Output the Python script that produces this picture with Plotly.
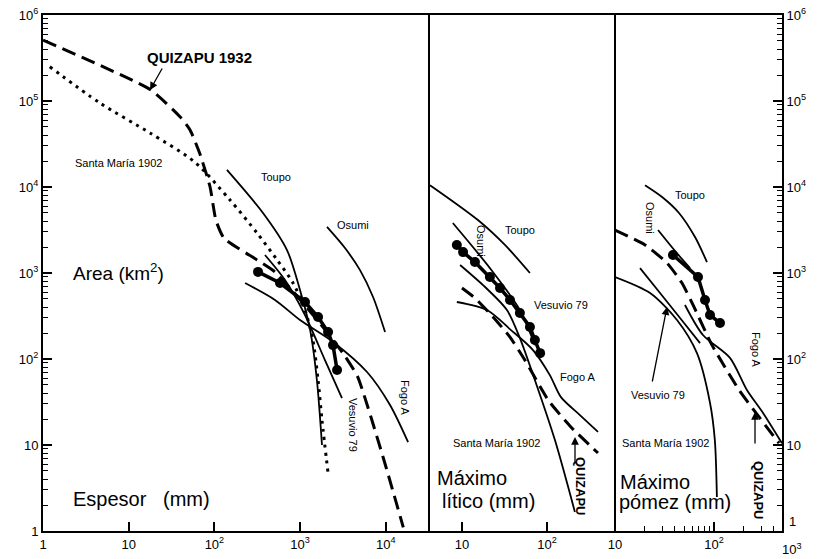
import plotly.graph_objects as go

# ---------------- Panel 1: Espesor (mm) vs Area (km2) ----------------
p1_quizapu_x = [1, 18, 40, 52, 68, 89, 104, 129, 314, 509, 1000, 1950, 3300, 4700, 9300, 16000]
p1_quizapu_y = [5.1e5, 1.35e5, 6.5e4, 4.6e4, 2.4e4, 1.0e4, 4130, 2550, 1420, 1030, 490, 220, 110, 62, 7.2, 1.1]
p1_santamaria_x = [1.2, 4.6, 17.7, 59, 152, 314, 538, 827, 1140, 1410, 1620, 1800, 2120]
p1_santamaria_y = [2.5e5, 9.5e4, 4.25e4, 1.95e4, 7060, 2920, 1420, 765, 371, 166, 57, 19.5, 4.7]
p1_toupo_x = [140, 369, 703, 997, 1310, 1570, 1800]
p1_toupo_y = [1.58e4, 4990, 1850, 634, 217, 57, 10]
p1_osumi_x = [2060, 3340, 5000, 7100, 9800]
p1_osumi_y = [3430, 1950, 1080, 526, 206]
p1_fogo_x = [228, 509, 997, 2420, 6040, 11200, 18200]
p1_fogo_y = [765, 486, 284, 158, 70.6, 29.2, 10.8]
p1_vesuvio_x = [389, 666, 1140, 1950, 3080]
p1_vesuvio_y = [1620, 829, 325, 97, 35]
p1_dots_x = [323, 583, 1140, 1620, 2120, 2420, 2700]
p1_dots_y = [1030, 765, 460, 308, 206, 145, 74.5]

# ---------------- Panel 2: Maximo litico (mm) ----------------
p2_toupo_x = [4.2, 15.4, 32, 63]
p2_toupo_y = [1.05e4, 4130, 2120, 1000]
p2_osumi_x = [7.8, 21.3, 48, 72]
p2_osumi_y = [3810, 1140, 371, 145]
p2_dots_x = [8.7, 10.3, 14.2, 21.3, 28, 36.7, 48, 63, 72, 83]
p2_dots_y = [2120, 1750, 1340, 898, 669, 486, 343, 236, 166, 117]
p2_fogo_x = [8.7, 19.7, 37.7, 68.4, 108, 146, 244, 398]
p2_fogo_y = [460, 371, 217, 127, 65, 36, 22.3, 14.2]
p2_quizapu_x = [10, 14.2, 23.2, 36.7, 55, 103, 191, 398]
p2_quizapu_y = [669, 512, 308, 180, 97, 33.4, 16.2, 8.07]
p2_santamaria_x = [9.5, 18.7, 33.8, 48, 72, 124, 213]
p2_santamaria_y = [1240, 687, 371, 175, 57, 11.4, 1.66]

# ---------------- Panel 3: Maximo pomez (mm) ----------------
p3_toupo_x = [20.1, 29.9, 44.3, 64.3, 84.9]
p3_toupo_y = [1.05e4, 7650, 4990, 2620, 1340]
p3_osumi_x = [27.2, 41.3, 57.3]
p3_osumi_y = [3160, 1750, 1140]
p3_dots_x = [38.5, 68.9, 81.1, 91.2, 115]
p3_dots_y = [1620, 898, 486, 325, 262]
p3_quizapu_x = [10, 20.1, 33.5, 47.5, 62.8, 95.5, 179, 285, 454]
p3_quizapu_y = [3160, 2120, 1310, 765, 403, 145, 43.6, 21.2, 10.5]
p3_fogo_x = [50.9, 77.4, 145, 215, 313, 486]
p3_fogo_y = [425, 190, 103, 43.6, 23.6, 10.5]
p3_vesuvio_x = [17.9, 28.5, 45.4, 72.3]
p3_vesuvio_y = [1140, 585, 300, 153]
p3_santamaria_x = [10, 22.6, 42.3, 67.3, 91.2, 102, 107]
p3_santamaria_y = [898, 585, 284, 117, 30.8, 11.4, 2.48]

# ---------------- Tick labels ----------------
y_tickvals = [1, 10, 100, 1000, 1e4, 1e5, 1e6]
y_ticktext = ["1", "10", "10<sup>2</sup>", "10<sup>3</sup>", "10<sup>4</sup>", "10<sup>5</sup>", "10<sup>6</sup>"]
y2_ticktext = ["", "10", "10<sup>2</sup>", "10<sup>3</sup>", "10<sup>4</sup>", "10<sup>5</sup>", "10<sup>6</sup>"]
y_minor = [m * 10 ** k for k in range(0, 6) for m in range(2, 10)]
x1_tickvals = [1, 10, 100, 1000, 1e4]
x1_ticktext = ["1", "10", "10<sup>2</sup>", "10<sup>3</sup>", "10<sup>4</sup>"]
x2_tickvals = [10, 100]
x2_ticktext = ["10", "10<sup>2</sup>"]
x3_tickvals = [10, 100]
x3_ticktext = ["10", "10<sup>2</sup>"]
x3_minor = [m * 10 ** k for k in (1, 2) for m in range(2, 10)]

FONT = "Liberation Sans"
BLACK = "black"

fig = go.Figure()


def line(x, y, xa, kind="solid", width=1.8):
    if kind == "dash":
        ln = dict(color=BLACK, width=3, dash="14px,7px", shape="spline", smoothing=0.5)
    elif kind == "dot":
        ln = dict(color=BLACK, width=3, dash="3px,5px", shape="spline", smoothing=0.8)
    else:
        ln = dict(color=BLACK, width=width, shape="spline", smoothing=0.8)
    fig.add_trace(go.Scatter(x=x, y=y, xaxis=xa, yaxis="y", mode="lines",
                             line=ln, hoverinfo="skip"))


def dots(x, y, xa):
    fig.add_trace(go.Scatter(x=x, y=y, xaxis=xa, yaxis="y", mode="lines+markers",
                             line=dict(color=BLACK, width=3.5),
                             marker=dict(color=BLACK, size=10), hoverinfo="skip"))


# panel 1
line(p1_quizapu_x, p1_quizapu_y, "x", "dash")
line(p1_santamaria_x, p1_santamaria_y, "x", "dot")
line(p1_toupo_x, p1_toupo_y, "x")
line(p1_osumi_x, p1_osumi_y, "x")
line(p1_fogo_x, p1_fogo_y, "x")
line(p1_vesuvio_x, p1_vesuvio_y, "x")
dots(p1_dots_x, p1_dots_y, "x")
# panel 2
line(p2_toupo_x, p2_toupo_y, "x2")
line(p2_osumi_x, p2_osumi_y, "x2")
line(p2_fogo_x, p2_fogo_y, "x2")
line(p2_quizapu_x, p2_quizapu_y, "x2", "dash")
line(p2_santamaria_x, p2_santamaria_y, "x2")
dots(p2_dots_x, p2_dots_y, "x2")
# panel 3
line(p3_toupo_x, p3_toupo_y, "x3")
line(p3_osumi_x, p3_osumi_y, "x3")
line(p3_quizapu_x, p3_quizapu_y, "x3", "dash")
line(p3_fogo_x, p3_fogo_y, "x3")
line(p3_vesuvio_x, p3_vesuvio_y, "x3")
line(p3_santamaria_x, p3_santamaria_y, "x3")
dots(p3_dots_x, p3_dots_y, "x3")

# invisible trace so the right axis is drawn
fig.add_trace(go.Scatter(x=[10], y=[10], xaxis="x3", yaxis="y2", mode="markers",
                         marker=dict(opacity=0), hoverinfo="skip"))

# geometry (pixels) of the plotting area
L, R, T, B = 43, 782, 15, 531
W, H = R - L, B - T
d1 = (429 - L) / W
d2 = (615 - L) / W


def px(xp, yp):
    return (xp - L) / W, (B - yp) / H


common_x = dict(type="log", showgrid=False, zeroline=False, showline=True, linecolor=BLACK,
                linewidth=2, mirror=True, ticks="inside", ticklen=9, tickwidth=1.5,
                tickcolor=BLACK, tickmode="array", anchor="y", automargin=False,
                tickfont=dict(family=FONT, size=13, color=BLACK))
common_y = dict(type="log", range=[0, 6], showgrid=False, zeroline=False, showline=True,
                linecolor=BLACK, linewidth=2, ticks="inside", ticklen=9, tickwidth=1.5,
                tickcolor=BLACK, tickmode="array", tickvals=y_tickvals, ticktext=y_ticktext,
                automargin=False,
                tickfont=dict(family=FONT, size=13, color=BLACK),
                minor=dict(tickmode="array", tickvals=y_minor, ticks="inside", ticklen=5,
                           tickwidth=1, tickcolor=BLACK, showgrid=False))

fig.update_layout(
    width=825, height=559,
    margin=dict(l=L, r=825 - R, t=T, b=559 - B, autoexpand=False),
    paper_bgcolor="white", plot_bgcolor="white", showlegend=False,
    font=dict(family=FONT, color=BLACK),
    xaxis=dict(common_x, domain=[0, d1], range=[0, 4.504],
               tickvals=x1_tickvals, ticktext=x1_ticktext),
    xaxis2=dict(common_x, domain=[d1, d2], range=[0.612, 2.8],
                tickvals=x2_tickvals, ticktext=x2_ticktext),
    xaxis3=dict(common_x, domain=[d2, 1], range=[1, 2.687],
                tickvals=x3_tickvals, ticktext=x3_ticktext,
                minor=dict(tickmode="array", tickvals=x3_minor, ticks="inside", ticklen=5,
                           tickwidth=1, tickcolor=BLACK, showgrid=False)),
    yaxis=dict(common_y, anchor="x", domain=[0, 1]),
    yaxis2=dict(common_y, anchor="x3", overlaying="y", side="right", ticktext=y2_ticktext),
)

# panel separators
for d in (d1, d2):
    fig.add_shape(type="line", xref="paper", yref="paper", x0=d, x1=d, y0=0, y1=1,
                  line=dict(color=BLACK, width=2))

labels = [
    # text, x px, y px, size, angle, bold
    ("QUIZAPU 1932", 199, 57, 15, 0, True),
    ("Santa María 1902", 118, 163, 11, 0, False),
    ("Toupo", 276, 177, 11, 0, False),
    ("Osumi", 353, 225, 11, 0, False),
    ("Area (km<sup>2</sup>)", 118, 272, 19, 0, False),
    ("Vesuvio 79", 353, 425, 11, 90, False),
    ("Fogo A", 405, 398, 11, 90, False),
    ("Espesor   (mm)", 141, 499, 20, 0, False),
    ("Toupo", 520, 230, 11, 0, False),
    ("Osumi", 481, 241, 11, 90, False),
    ("Vesuvio 79", 561, 305, 11, 0, False),
    ("Fogo A", 578, 377, 11, 0, False),
    ("Santa María 1902", 496, 443, 11, 0, False),
    ("Máximo", 472, 478, 20, 0, False),
    ("lítico (mm)", 488, 501, 20, 0, False),
    ("QUIZAPU", 581, 486, 13, 90, True),
    ("Toupo", 690, 195, 11, 0, False),
    ("Osumi", 650, 218, 11, 90, False),
    ("Vesuvio 79", 658, 395, 11, 0, False),
    ("Fogo A", 756, 350, 11, 90, False),
    ("Santa María 1902", 665, 443, 11, 0, False),
    ("Máximo", 655, 482, 20, 0, False),
    ("pómez (mm)", 675, 502, 20, 0, False),
    ("QUIZAPU", 759, 490, 13, 90, True),
    ("1", 792, 521, 13, 0, False),
    ("10<sup>3</sup>", 792, 549, 13, 0, False),
]
for text, x, y, size, angle, bold in labels:
    xp, yp = px(x, y)
    fig.add_annotation(x=xp, y=yp, xref="paper", yref="paper", showarrow=False,
                       text=f"<b>{text}</b>" if bold else text, textangle=angle,
                       font=dict(family=FONT, size=size, color=BLACK),
                       xanchor="center", yanchor="middle")

arrows = [
    # head x, head y (px), tail offset ax, ay
    (150, 90, 13, -23),
    (575, 437, 0, 27),
    (755, 412, 0, 33),
    (667, 307, -15, 76),
]
for x, y, ax, ay in arrows:
    xp, yp = px(x, y)
    fig.add_annotation(x=xp, y=yp, xref="paper", yref="paper", ax=ax, ay=ay,
                       showarrow=True, arrowhead=2, arrowsize=1.2, arrowwidth=1.3,
                       arrowcolor=BLACK, text="")

fig.write_html("out.html", config={"displayModeBar": False},
               post_script="document.body.style.margin='0px';")
